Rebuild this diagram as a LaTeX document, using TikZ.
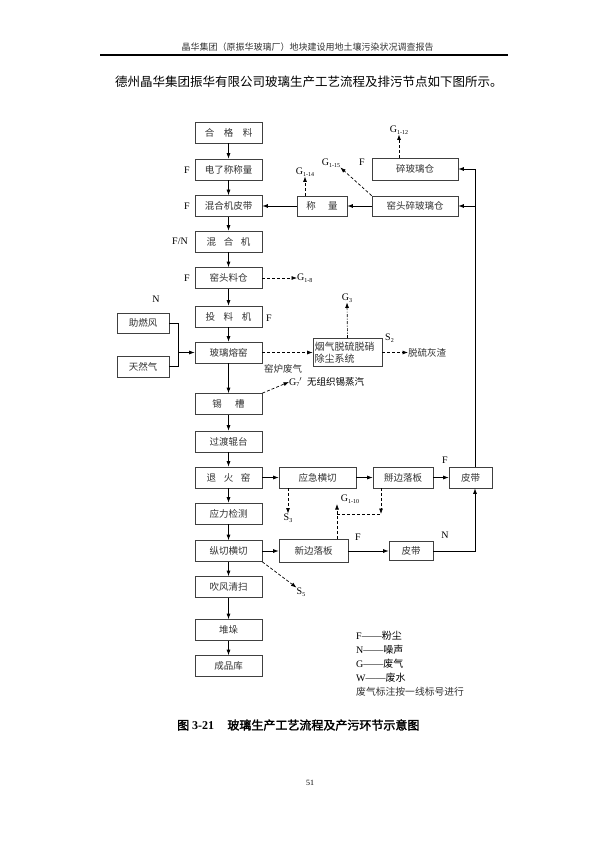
\documentclass[tikz,border=0pt]{standalone}
\usepackage{fontspec}
\setmainfont{Liberation Serif}
\newfontfamily\cjk[AutoFakeBold=2]{Noto Sans CJK SC}
\usetikzlibrary{arrows.meta}
\newcommand\sbx[1]{\raisebox{-1.8pt}{\fontsize{6}{6}\selectfont #1}}
\tikzset{
  box/.style={draw=black!75, line width=0.7pt, minimum width=67pt, minimum height=21pt, inner sep=0pt, fill=white, font=\cjk\fontsize{9.5}{11}\selectfont, text=black!80},
  lbl/.style={inner sep=0pt, font=\fontsize{10}{12}\selectfont},
  cn/.style={inner sep=0pt, font=\cjk\fontsize{9.5}{11}\selectfont, text=black!80},
  arr/.style={-{Latex[length=5.5pt,width=4pt]}, line width=0.7pt},
  ln/.style={line width=0.7pt},
  darr/.style={arr, dash pattern=on 3pt off 2pt},
  dln/.style={ln, dash pattern=on 3pt off 2pt}
}
\begin{document}
\begin{tikzpicture}[x=1pt,y=-1pt]
\useasboundingbox[fill=white] (0,0) rectangle (595,842);

% header
\node[inner sep=0pt, font=\cjk\fontsize{9}{10}\selectfont, text=black!80] (hdr) at (307.5,47) {晶华集团（原振华玻璃厂）地块建设用地土壤污染状况调查报告};
\draw[line width=1.5pt] (100,55) -- (508,55);
\node[anchor=west, inner sep=0pt, font=\cjk\fontsize{12.5}{14}\selectfont] (intro) at (115,82) {德州晶华集团振华有限公司玻璃生产工艺流程及排污节点如下图所示。};

% main column
\node[box] (hgl)  at (228.5,132.5) {合\hspace{1em}格\hspace{1em}料};
\node[box] (dz)   at (228.5,169.5) {电了称称量};
\node[box] (hhpd) at (228.5,206) {混合机皮带};
\node[box] (hhj)  at (228.5,241.5) {混\hspace{0.8em}合\hspace{0.8em}机};
\node[box] (ytlc) at (228.5,278) {窑头料仓};
\node[box] (tlj)  at (228.5,316.5) {投\hspace{0.9em}料\hspace{0.9em}机};
\node[box] (blry) at (228.5,352.5) {玻璃熔窑};
\node[box] (xc)   at (228.5,404) {锡\hspace{1.4em}槽};
\node[box] (gdgt) at (228.5,441.5) {过渡辊台};
\node[box] (thy)  at (228.5,477.5) {退\hspace{0.8em}火\hspace{0.8em}窑};
\node[box] (yljc) at (228.5,513.5) {应力检测};
\node[box] (zqhq) at (228.5,551) {纵切横切};
\node[box] (cfqs) at (228.5,587) {吹风清扫};
\node[box] (dd)   at (228.5,630) {堆垛};
\node[box] (cpk)  at (228.5,666) {成品库};

\foreach \a/\b in {hgl/dz,dz/hhpd,hhpd/hhj,hhj/ytlc,ytlc/tlj,tlj/blry,blry/xc,xc/gdgt,gdgt/thy,thy/yljc,yljc/zqhq,zqhq/cfqs,cfqs/dd,dd/cpk}
  \draw[arr] (\a.south) -- (\b.north);

% upper right
\node[box, minimum width=50pt, minimum height=20pt] (cl) at (322,206) {称\hspace{1.3em}量};
\node[box, minimum width=86pt, minimum height=20pt] (ytsbl) at (415,206) {窑头碎玻璃仓};
\node[box, minimum width=86pt, minimum height=22pt] (sblc) at (415,169) {碎玻璃仓};
\draw[arr] (ytsbl.west) -- (cl.east);
\draw[arr] (cl.west) -- (hhpd.east);

% left inputs
\node[box, minimum width=52pt, minimum height=20pt] (zrf) at (143,323) {助燃风};
\node[box, minimum width=52pt, minimum height=21pt] (trq) at (143,366.5) {天然气};
\coordinate (bx) at (178,0);
\draw[ln] (zrf.east) -| (bx |- trq.east) -- (trq.east);
\draw[arr] (bx |- blry.west) -- (blry.west);

% flue gas system
\node[box, minimum width=69pt, minimum height=28pt, text width=66pt, align=left, font=\cjk\fontsize{10}{12.5}\selectfont] (yq) at (347.5,352.5) {烟气脱硫脱硝\\除尘系统};
\draw[darr] (blry.east) -- (yq.west);
\node[cn] (ylfq) at (283,369) {窑炉废气};
\node[lbl] (g3) at (347,298) {G\sbx{3}};
\draw[arr, dash pattern=on 3pt off 1.5pt on 1pt off 1.5pt] (yq.north) -- (g3.south);
\node[lbl, anchor=west] (s2) at (385,338) {S\sbx{2}};
\node[cn, anchor=west] (tlhz) at (408,352.5) {脱硫灰渣};
\draw[darr] (yq.east) -- (tlhz.west);

% lower right
\node[box, minimum width=77pt] (yjhq) at (317.5,477.5) {应急横切};
\node[box, minimum width=60pt] (bbl) at (403,477.5) {掰边落板};
\node[box, minimum width=43pt] (pd1) at (470.5,477.5) {皮带};
\node[box, minimum width=69pt, minimum height=23pt] (xbl) at (313.5,551) {新边落板};
\node[box, minimum width=44pt, minimum height=19pt] (pd2) at (411,551) {皮带};
\draw[arr] (thy.east) -- (yjhq.west);
\draw[arr] (yjhq.east) -- (bbl.west);
\draw[arr] (bbl.east) -- (pd1.west);
\draw[arr] (zqhq.east) -- (xbl.west);
\draw[arr] (xbl.east) -- (pd2.west);

\coordinate (rv) at (475,0);
\draw[arr] (pd2.east) -| (rv |- pd1.south);
\draw[ln] (pd1.north -| rv) -- (rv |- sblc.east);
\draw[arr] (rv |- sblc.east) -- (sblc.east);
\draw[arr] (rv |- ytsbl.east) -- (ytsbl.east);

% emission labels
\node[lbl] (g112) at (399,130) {G\sbx{1-12}};
\draw[darr] (sblc.north -| g112) -- (g112.south);
\node[lbl] (g114) at (305,172) {G\sbx{1-14}};
\draw[darr] (cl.north -| g114) -- (g114.south);
\node[lbl] (g115) at (331,163) {G\sbx{1-15}};
\draw[darr] (ytsbl.north west) -- (g115.south east);
\node[lbl, anchor=west] (g18) at (297,278) {G\sbx{1-8}};
\draw[darr] (ytlc.east) -- (g18.west);
\node[lbl, anchor=west] (g7) at (289,382) {G\sbx{7}$'$\hspace{0.5em}{\cjk\fontsize{9.5}{11}\selectfont 无组织锡蒸汽}};
\draw[darr] (xc.north east) -- (g7.west);
\node[lbl] (s3) at (288,518) {S\sbx{3}};
\draw[darr] (yjhq.south -| s3) -- (s3.north);
\node[lbl] (s5) at (301,592) {S\sbx{5}};
\draw[darr] (zqhq.south east) -- (s5.north west);
\node[lbl] (g110) at (350,499) {G\sbx{1-10}};
\coordinate (gt) at (337,504);
\coordinate (dj) at (337,514);
\coordinate (dk) at (381,514);
\draw[darr] (xbl.north -| gt) -- (gt);
\draw[dln] (dj) -- (dk);
\draw[darr] (bbl.south -| dk) -- (dk);

% F / N labels
\node[lbl] (f1) at (187,170) {F};
\node[lbl] (f2) at (187,206) {F};
\node[lbl, anchor=east] (f3) at (188,241) {F/N};
\node[lbl] (f4) at (187,278) {F};
\node[lbl] (n1) at (156,299) {N};
\node[lbl] (f5) at (269,318) {F};
\node[lbl] (f6) at (362,162) {F};
\node[lbl] (f7) at (445,460) {F};
\node[lbl] (f8) at (358,537) {F};
\node[lbl] (n2) at (445,535) {N};

% legend
\node[lbl, anchor=west] (lf) at (356,636) {F——{\cjk 粉尘}};
\node[lbl, anchor=west] (ln) at (356,650) {N——{\cjk 噪声}};
\node[lbl, anchor=west] (lg) at (356,664) {G——{\cjk 废气}};
\node[lbl, anchor=west] (lw) at (356,678) {W——{\cjk 废水}};
\node[cn, anchor=west, font=\cjk\fontsize{9.8}{11}\selectfont] (lx) at (356,692) {废气标注按一线标号进行};

% caption
\node[anchor=west, inner sep=0pt, font=\bfseries\fontsize{12}{14}\selectfont] (cap) at (177,725) {{\cjk 图} 3-21\hspace{1.1em}{\cjk 玻璃生产工艺流程及产污环节示意图}};
\node[inner sep=0pt, font=\fontsize{8}{9}\selectfont] (pg) at (310,783) {51};
\end{tikzpicture}
\end{document}
